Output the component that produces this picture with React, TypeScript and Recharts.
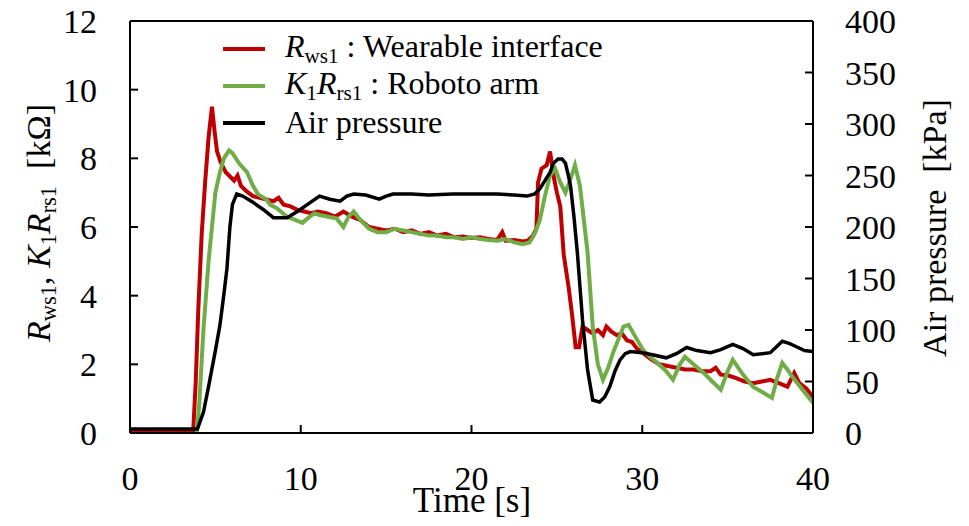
import { LineChart, Line, XAxis, YAxis, Legend, ReferenceLine } from 'recharts';

// R_ws1 : wearable interface [kOhm]
const redTime = [
  0, 1, 2, 3, 3.7, 3.85, 4.0, 4.2, 4.4, 4.6, 4.8, 4.95, 5.1, 5.3, 5.6, 5.9, 6.1, 6.3, 6.5, 6.8,
  7.2, 7.6, 8.0, 8.4, 8.7, 9.0, 9.4, 9.8, 10.2, 10.6, 11.0, 11.5, 12.0, 12.5, 13.0, 13.5, 14.0,
  14.5, 15.0, 15.5, 16.0, 16.5, 17.0, 17.5, 18.0, 18.5, 19.0, 19.5, 20.0, 20.5, 21.0, 21.5, 21.8,
  22.0, 22.5, 23.0, 23.3, 23.6, 23.8, 23.9, 24.1, 24.4, 24.6, 24.8, 25.0, 25.2, 25.4, 25.7, 25.9,
  26.1, 26.3, 26.5, 26.8, 27.1, 27.4, 27.7, 27.9, 28.2, 28.5, 28.8, 29.1, 29.4, 29.7, 30.0, 30.5,
  31.0, 31.5, 32.0, 32.5, 33.0, 33.5, 34.0, 34.3, 34.6, 35.0, 35.5, 36.0, 36.5, 37.0, 37.5, 38.0,
  38.5, 38.9, 39.2, 39.6, 40.0,
];
const redValues = [
  0.02, 0.03, 0.02, 0.03, 0.03, 1.5, 3.6, 5.8, 7.3, 8.6, 9.5, 8.8, 8.2, 7.9, 7.6, 7.45, 7.35, 7.5, 7.2, 7.05,
  6.9, 6.85, 6.8, 6.75, 6.85, 6.65, 6.6, 6.5, 6.45, 6.4, 6.45, 6.4, 6.3, 6.45, 6.3, 6.2, 6.0,
  5.95, 5.9, 5.95, 5.85, 5.9, 5.8, 5.85, 5.75, 5.8, 5.7, 5.72, 5.68, 5.7, 5.65, 5.62, 5.85,
  5.6, 5.62, 5.58, 5.6, 5.75, 5.95, 7.3, 7.7, 7.8, 8.2, 7.5, 7.0, 6.6, 5.2, 4.2, 3.4,
  2.5, 2.5, 3.1, 3.0, 2.9, 3.0, 2.85, 3.1, 2.95, 2.85, 2.9, 2.7, 2.65, 2.45, 2.35, 2.15,
  2.0, 1.95, 1.9, 1.85, 1.85, 1.8, 1.8, 1.9, 1.7, 1.68, 1.6, 1.5, 1.45, 1.5, 1.55, 1.45,
  1.35, 1.75, 1.45, 1.3, 1.05,
];

// K1 R_rs1 : robot arm [kOhm]
const greenTime = [
  0, 3.9, 4.05, 4.3, 4.6, 4.8, 5.0, 5.27, 5.5, 5.8, 6.0, 6.4, 6.85, 7.2, 7.5, 8.0, 8.2, 8.6, 9.2,
  9.7, 10.1, 10.4, 10.8, 11.1, 11.6, 12.1, 12.5, 12.8, 13.1, 13.5, 14.0, 14.5, 15.0, 15.5, 16.0,
  16.5, 17.0, 17.5, 18.0, 18.5, 19.0, 19.5, 20.0, 20.5, 21.0, 21.5, 22.0, 22.5, 23.0, 23.4, 23.7,
  24.0, 24.3, 24.6, 24.9, 25.2, 25.5, 25.8, 26.06, 26.35, 26.8, 27.1, 27.4, 27.7, 28.0, 28.3, 28.9,
  29.2, 29.6, 30.05, 30.5, 30.9, 31.4, 31.8, 32.2, 32.5, 33.0, 33.6, 34.1, 34.6, 35.0, 35.3, 35.9,
  36.5, 37.0, 37.6, 37.9, 38.2, 38.5, 38.8, 39.4, 40.0,
];
const greenValues = [
  -0.03, -0.03, 0.8, 3.0, 5.0, 6.0, 7.0, 7.6, 8.0, 8.23, 8.15, 7.85, 7.6, 7.2, 6.95, 6.8, 6.65, 6.55, 6.3,
  6.2, 6.12, 6.25, 6.4, 6.35, 6.3, 6.25, 6.0, 6.3, 6.45, 6.2, 5.95, 5.85, 5.85, 5.95, 5.9,
  5.85, 5.8, 5.75, 5.75, 5.7, 5.7, 5.65, 5.7, 5.65, 5.62, 5.6, 5.65, 5.55, 5.5, 5.55, 5.8,
  6.2, 6.9, 7.5, 7.7, 7.3, 7.0, 7.4, 7.8, 7.2, 5.25, 3.1, 2.0, 1.55, 1.9, 2.35, 3.1,
  3.15, 2.8, 2.42, 2.2, 2.04, 1.8, 1.55, 2.0, 2.22, 2.0, 1.75, 1.5, 1.26, 1.8, 2.13, 1.7,
  1.34, 1.2, 1.02, 1.6, 2.04, 1.85, 1.63, 1.25, 0.88,
];

// air pressure [kPa]
const pressureTime = [
  0, 1, 2, 3, 3.95, 4.3, 4.6, 5.0, 5.27, 5.5, 5.68, 5.85, 6.0, 6.25, 6.6, 7.2, 7.8, 8.4, 9.2, 9.8,
  10.4, 11.1, 11.7, 12.3, 12.7, 13.1, 13.8, 14.6, 15.0, 15.4, 16.5, 17.5, 18.9, 20.3, 21.5, 22.5,
  23.25, 23.7, 24.0, 24.3, 24.6, 24.8, 25.07, 25.3, 25.5, 25.7, 25.8, 26.0, 26.2, 26.5, 26.8, 27.1,
  27.5, 27.8, 28.1, 28.4, 28.7, 29.0, 29.3, 30.0, 30.6, 31.4, 32.0, 32.6, 33.2, 34.0, 34.6, 35.3,
  35.9, 36.5, 37.5, 38.2, 38.6, 39.0, 39.5, 40.0,
];
const pressureValues = [
  4, 4, 4, 4, 4, 20, 45, 80, 105, 135, 160, 200, 222, 232, 230, 224, 217, 209, 209, 215,
  222, 230, 227, 225, 230, 232, 231, 227, 230, 232, 232, 231, 232, 232, 232, 231,
  230, 232, 237, 245, 253, 262, 266, 266, 262, 248, 240, 210, 175, 110, 61, 32,
  30, 35, 45, 60, 71, 77, 79, 78, 76, 73, 77, 83, 80, 78, 81, 86,
  82, 76, 78, 89, 87, 84, 80, 79,
];

const xTicks = [0, 10, 20, 30, 40];
const leftTicks = [0, 2, 4, 6, 8, 10, 12];
const rightTicks = [0, 50, 100, 150, 200, 250, 300, 350, 400];

const RED = '#C00000';
const GREEN = '#70AD47';
const BLACK = '#000000';

const toPoints = (ts: number[], vs: number[]) => ts.map((t, i) => ({ t, v: vs[i] }));
const redData = toPoints(redTime, redValues);
const greenData = toPoints(greenTime, greenValues);
const pressureData = toPoints(pressureTime, pressureValues);

const serif = 'Liberation Serif, Times New Roman, serif';
const tickFont = 34;
const subStyle = { fontSize: '0.66em', verticalAlign: '-0.28em' };

// custom tick text so the serif font is surely used
const makeTick = (anchor: 'start' | 'middle' | 'end', dy: number) => (props: any) => {
  const { x, y, payload } = props;
  return (
    <text x={x} y={y} dy={dy} textAnchor={anchor} fontFamily={serif} fontSize={tickFont} fill="#000">
      {payload.value}
    </text>
  );
};
const BottomTick = makeTick('middle', 24);
const LeftTick = makeTick('end', 12);
const RightTick = makeTick('start', 12);

// legend rows, in the order of the reference
const legendRows = [
  {
    color: RED,
    label: <span><i>R</i><span style={subStyle}>ws1</span> : Wearable interface</span>,
  },
  {
    color: GREEN,
    label: <span><i>K</i><span style={subStyle}>1</span><i>R</i><span style={subStyle}>rs1</span> : Roboto arm</span>,
  },
  { color: BLACK, label: <span>Air pressure</span> },
];

const LegendContent = () => (
  <div style={{ fontFamily: serif, fontSize: 32, color: '#000' }}>
    {legendRows.map((row, i) => (
      <div key={i} style={{ display: 'flex', alignItems: 'center', height: 37, whiteSpace: 'nowrap' }}>
        <div style={{ width: 42, height: 4, background: row.color, marginRight: 20 }} />
        {row.label}
      </div>
    ))}
  </div>
);

export default function App() {
  return (
    <div
      style={{
        position: 'absolute', left: 0, top: 0, width: 969, height: 526,
        background: '#fff', fontFamily: serif,
      }}
    >
      <LineChart width={969} height={526} margin={{ top: 21, right: 76, left: 50, bottom: 33 }}>
        <XAxis
          type="number"
          dataKey="t"
          domain={[0, 40]}
          ticks={xTicks}
          allowDataOverflow
          height={60}
          tickSize={-8}
          tickMargin={41}
          tick={<BottomTick />}
          stroke="#000"
          strokeWidth={2}
        />
        <YAxis
          yAxisId="left"
          domain={[0, 12]}
          ticks={leftTicks}
          allowDataOverflow
          width={80}
          tickSize={-8}
          tickMargin={41}
          tick={<LeftTick />}
          stroke="#000"
          strokeWidth={2}
        />
        <YAxis
          yAxisId="right"
          orientation="right"
          domain={[0, 400]}
          ticks={rightTicks}
          allowDataOverflow
          width={80}
          tickSize={-8}
          tickMargin={40}
          tick={<RightTick />}
          stroke="#000"
          strokeWidth={2}
        />
        <ReferenceLine yAxisId="left" y={12} stroke="#000" strokeWidth={2} />
        <Legend
          layout="vertical"
          align="center"
          verticalAlign="middle"
          content={<LegendContent />}
          wrapperStyle={{ left: 223, top: 30, width: 420 }}
        />
        <Line
          yAxisId="left"
          data={redData}
          dataKey="v"
          name="Rws1"
          type="linear"
          stroke={RED}
          strokeWidth={4}
          dot={false}
          isAnimationActive={false}
        />
        <Line
          yAxisId="left"
          data={greenData}
          dataKey="v"
          name="K1Rrs1"
          type="linear"
          stroke={GREEN}
          strokeWidth={4}
          dot={false}
          isAnimationActive={false}
        />
        <Line
          yAxisId="right"
          data={pressureData}
          dataKey="v"
          name="Air pressure"
          type="linear"
          stroke={BLACK}
          strokeWidth={3.5}
          dot={false}
          isAnimationActive={false}
        />
      </LineChart>
      <div
        style={{
          position: 'absolute', left: 41, top: 223, transform: 'translate(-50%, -50%) rotate(-90deg)',
          fontSize: 34, whiteSpace: 'pre', color: '#000',
        }}
      >
        <i>R</i><span style={subStyle}>ws1</span>, <i>K</i><span style={subStyle}>1</span><i>R</i><span style={subStyle}>rs1</span>  [kΩ]
      </div>
      <div
        style={{
          position: 'absolute', left: 935, top: 228, transform: 'translate(-50%, -50%) rotate(-90deg)',
          fontSize: 34, whiteSpace: 'pre', color: '#000',
        }}
      >
        Air pressure  [kPa]
      </div>
      <div
        style={{
          position: 'absolute', left: 472, top: 501, transform: 'translate(-50%, -50%)',
          fontSize: 35, whiteSpace: 'nowrap', color: '#000',
        }}
      >
        Time [s]
      </div>
    </div>
  );
}
